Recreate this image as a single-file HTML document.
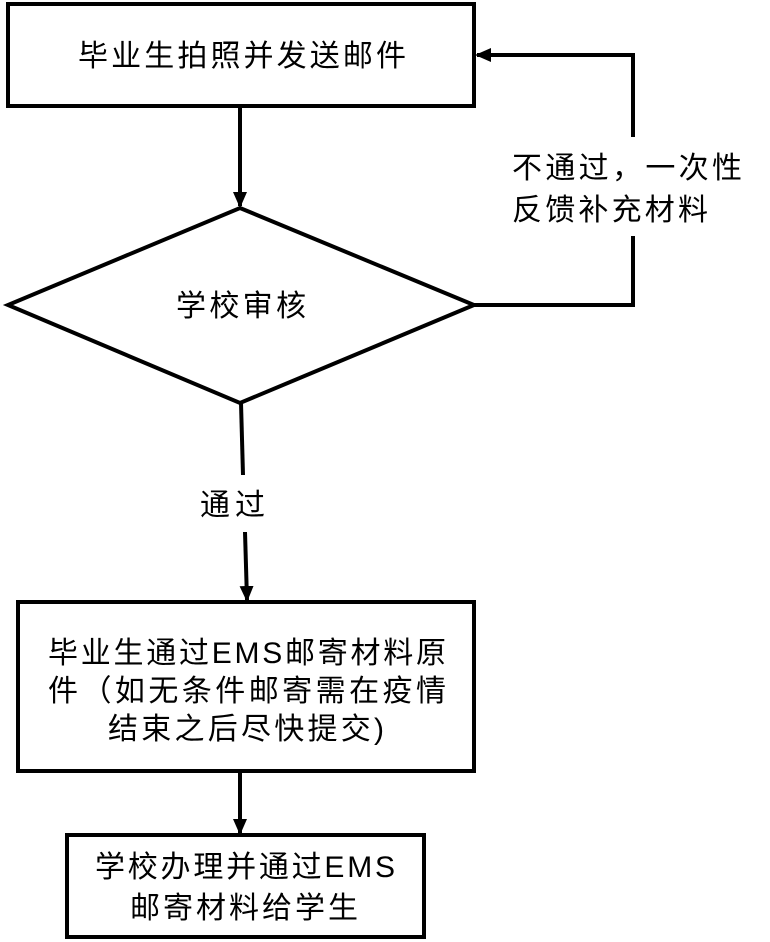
<!DOCTYPE html>
<html><head><meta charset="utf-8"><style>
html,body{margin:0;padding:0;background:#fff;}
svg{display:block;}
text{font-family:"Liberation Sans","Noto Sans CJK SC",sans-serif;font-size:30px;fill:#000;}
</style></head><body>
<svg width="770" height="942" viewBox="0 0 770 942" xmlns="http://www.w3.org/2000/svg">
<defs><marker id="a" markerWidth="16" markerHeight="14" refX="14" refY="7" orient="auto" markerUnits="userSpaceOnUse"><path d="M0,0 L16,7 L0,14 z" fill="#000"/></marker></defs>
<g fill="none" stroke="#000" stroke-width="4">
<rect x="8" y="4" width="466" height="102"/>
<polygon points="240,208 474,305 240,403 8,305"/>
<rect x="18" y="602" width="456" height="169"/>
<rect x="67" y="835" width="357" height="102"/>
</g>
<g stroke="#000" stroke-width="4" fill="none">
<line x1="240" y1="107" x2="240" y2="206" marker-end="url(#a)"/>
<polyline points="474,305 633,305 633,236"/>
<polyline points="633,137 633,55 477,55" marker-end="url(#a)"/>
<line x1="241" y1="403" x2="243" y2="475"/>
<line x1="245" y1="532" x2="247" y2="600" marker-end="url(#a)"/>
<line x1="240" y1="772" x2="240" y2="833" marker-end="url(#a)"/>
</g>
<text x="78" y="66" textLength="328" lengthAdjust="spacing">毕业生拍照并发送邮件</text>
<text x="176" y="316" textLength="130" lengthAdjust="spacing">学校审核</text>
<text x="512" y="178" textLength="230" lengthAdjust="spacing">不通过，一次性</text>
<text x="512" y="220" textLength="196" lengthAdjust="spacing">反馈补充材料</text>
<text x="200" y="515" textLength="65" lengthAdjust="spacing">通过</text>
<text x="48" y="663" textLength="398" lengthAdjust="spacing">毕业生通过EMS邮寄材料原</text>
<text x="48" y="701" textLength="398" lengthAdjust="spacing">件（如无条件邮寄需在疫情</text>
<text x="108" y="739" textLength="276" lengthAdjust="spacing">结束之后尽快提交)</text>
<text x="95" y="877" textLength="300" lengthAdjust="spacing">学校办理并通过EMS</text>
<text x="130" y="918" textLength="228" lengthAdjust="spacing">邮寄材料给学生</text>
</svg>
</body></html>
